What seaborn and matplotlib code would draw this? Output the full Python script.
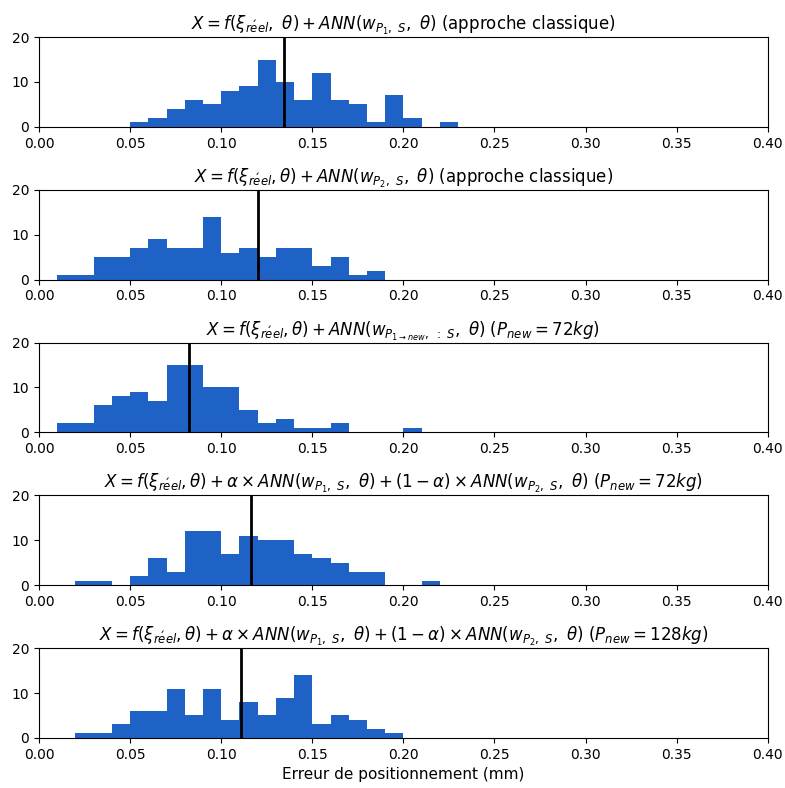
import numpy as np
import pandas as pd
import matplotlib
matplotlib.use("Agg")
import matplotlib.pyplot as plt
import seaborn as sns

# --- data (counts per 0.01 mm bin, starting at bin_start) ---
bin_width = 0.01

counts_p1 = [1, 2, 4, 6, 5, 8, 9, 15, 10, 6, 12, 6, 5, 1, 7, 2, 0, 1]
start_p1 = 0.05
mean_p1 = 0.1344

counts_p2 = [1, 1, 5, 5, 7, 9, 7, 7, 14, 6, 7, 5, 7, 7, 3, 5, 1, 2]
start_p2 = 0.01
mean_p2 = 0.1203

counts_p3 = [2, 2, 6, 8, 9, 7, 15, 15, 10, 10, 5, 2, 3, 1, 1, 2, 0, 0, 0, 1]
start_p3 = 0.01
mean_p3 = 0.0821

counts_p4 = [1, 1, 0, 2, 6, 3, 12, 12, 7, 11, 10, 10, 7, 6, 5, 3, 3, 0, 0, 1]
start_p4 = 0.02
mean_p4 = 0.1161

counts_p5 = [1, 1, 3, 6, 6, 11, 5, 11, 4, 8, 5, 9, 14, 3, 5, 4, 2, 1]
start_p5 = 0.02
mean_p5 = 0.1110

titles = [
    r"$X = f(\xi_{r\acute{e}el},\ \theta) + ANN(w_{P_1,\ S},\ \theta)$ (approche classique)",
    r"$X = f(\xi_{r\acute{e}el}, \theta) + ANN(w_{P_2,\ S},\ \theta)$ (approche classique)",
    r"$X = f(\xi_{r\acute{e}el}, \theta) + ANN(w_{P_{1 \rightarrow new},\ :\ S},\ \theta)$ $(P_{new} = 72kg)$",
    r"$X = f(\xi_{r\acute{e}el}, \theta) + \alpha \times ANN(w_{P_1,\ S},\ \theta) + (1 - \alpha) \times ANN(w_{P_2,\ S},\ \theta)$ $(P_{new} = 72kg)$",
    r"$X = f(\xi_{r\acute{e}el}, \theta) + \alpha \times ANN(w_{P_1,\ S},\ \theta) + (1 - \alpha) \times ANN(w_{P_2,\ S},\ \theta)$ $(P_{new} = 128kg)$",
]

panels = [
    (counts_p1, start_p1, mean_p1),
    (counts_p2, start_p2, mean_p2),
    (counts_p3, start_p3, mean_p3),
    (counts_p4, start_p4, mean_p4),
    (counts_p5, start_p5, mean_p5),
]

bar_color = "#1f62c6"

fig, axes = plt.subplots(5, 1, figsize=(7.85, 7.88), dpi=100)
fig.subplots_adjust(left=0.0497, right=0.978, top=0.953, bottom=0.0635, hspace=0.7)

for ax, (counts, start, mean), title in zip(axes, panels, titles):
    n = len(counts)
    lo, hi = start, round(start + bin_width * n, 4)
    centers = start + bin_width * (np.arange(n) + 0.5)
    df = pd.DataFrame({"err": centers, "n": counts})
    sns.histplot(data=df, x="err", weights="n", bins=n, binrange=(lo, hi), ax=ax,
                 color=bar_color, linewidth=0, alpha=1.0)
    ax.axvline(mean, color="black", linewidth=2)
    ax.set_xlim(0, 0.4)
    ax.set_ylim(0, 20)
    ax.set_yticks([0, 10, 20])
    ticks = np.arange(0, 0.401, 0.05)
    ax.set_xticks(ticks)
    ax.set_xticklabels([f"{t:.2f}" for t in ticks])
    ax.set_ylabel("")
    ax.set_xlabel("")
    ax.set_title(title, fontsize=12, pad=3)

axes[-1].set_xlabel("Erreur de positionnement (mm)", fontsize=11)

fig.savefig("out.png", dpi=100)
